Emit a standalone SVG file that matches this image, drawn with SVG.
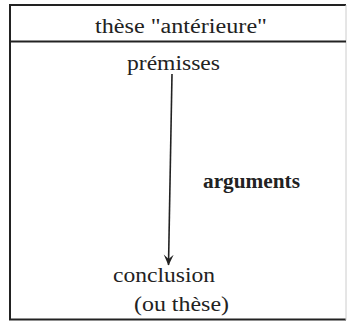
<svg xmlns="http://www.w3.org/2000/svg" width="348" height="322" viewBox="0 0 348 322">
<style>
.t{font-family:"Liberation Serif","Times New Roman",serif;font-size:20px;fill:#222}
.b{font-family:"Liberation Serif","Times New Roman",serif;font-size:20px;font-weight:bold;fill:#222}
.frame{stroke:#222;stroke-width:2;fill:none}
.conn{stroke:#222;stroke-width:1.6;fill:none}
</style>
<defs>
<marker id="ah" viewBox="0 0 10 10" refX="9.5" refY="5" markerWidth="11" markerHeight="11" orient="auto" markerUnits="userSpaceOnUse">
<path d="M0,0.5 L10,5 L0,9.5 L4,5 Z" fill="#222"/>
</marker>
</defs>
<rect width="348" height="322" fill="#fff"/>
<g id="frame">
<line class="frame" x1="9" y1="5" x2="346" y2="5"/>
<line class="frame" x1="10" y1="4" x2="10" y2="320"/>
<line class="frame" x1="9" y1="319.5" x2="346" y2="319.5"/>
<line x1="346" y1="5" x2="346" y2="320" stroke="#ccc" stroke-width="1"/>
<line class="frame" x1="9" y1="41.5" x2="346" y2="41.5"/>
</g>
<g id="header"><text class="t" x="95" y="33" textLength="172" lengthAdjust="spacingAndGlyphs">thèse "antérieure"</text></g>
<g id="premisses"><text class="t" x="127" y="70" textLength="93" lengthAdjust="spacingAndGlyphs">prémisses</text></g>
<g id="arguments"><text class="b" x="203" y="188" textLength="97" lengthAdjust="spacingAndGlyphs">arguments</text></g>
<g id="conclusion">
<text class="t" x="113" y="282" textLength="102" lengthAdjust="spacingAndGlyphs">conclusion</text>
<text class="t" x="134" y="311" textLength="95" lengthAdjust="spacingAndGlyphs">(ou thèse)</text>
</g>
<g id="connectors">
<line class="conn" x1="172" y1="74" x2="168.5" y2="265" marker-end="url(#ah)"/>
</g>
</svg>
